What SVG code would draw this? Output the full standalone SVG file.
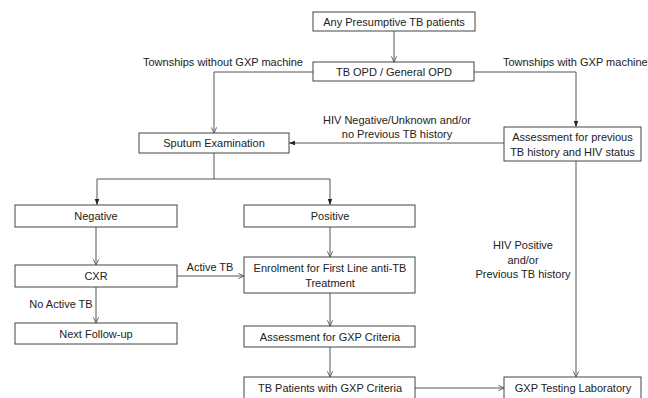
<svg xmlns="http://www.w3.org/2000/svg" width="648" height="398" viewBox="0 0 648 398">
<style>
text{font-family:"Liberation Sans",Arial,sans-serif;font-size:11px;fill:#222;}
.c{text-anchor:middle;}
.box{fill:#fff;stroke:#444;stroke-width:1;}
.ln{fill:none;stroke:#555;stroke-width:1;}
</style>
<defs>
<marker id="open" viewBox="0 0 8 8" refX="7.5" refY="4" markerWidth="7" markerHeight="7" markerUnits="userSpaceOnUse" orient="auto">
<path d="M1,1 L7.5,4 L1,7" fill="none" stroke="#555" stroke-width="1"/>
</marker>
<marker id="fill" viewBox="0 0 8 8" refX="8" refY="4" markerWidth="6" markerHeight="6" markerUnits="userSpaceOnUse" orient="auto">
<path d="M0,1 L8,4 L0,7 Z" fill="#222"/>
</marker>
</defs>
<g id="connectors">
<path class="ln" d="M394,31 V62" marker-end="url(#open)"/>
<path class="ln" d="M313,72 H214 V133" marker-end="url(#open)"/>
<path class="ln" d="M474,72 H576 V127" marker-end="url(#fill)"/>
<path class="ln" d="M504,143 H289" marker-end="url(#fill)"/>
<path class="ln" d="M214,153 V179 M97,179 H330"/>
<path class="ln" d="M97,179 V205" marker-end="url(#fill)"/>
<path class="ln" d="M330,179 V205" marker-end="url(#fill)"/>
<path class="ln" d="M96,227 V265" marker-end="url(#open)"/>
<path class="ln" d="M177,276 H244" marker-end="url(#open)"/>
<path class="ln" d="M96,287 V323" marker-end="url(#open)"/>
<path class="ln" d="M330,227 V257" marker-end="url(#open)"/>
<path class="ln" d="M330,293 V326" marker-end="url(#open)"/>
<path class="ln" d="M330,347 V377" marker-end="url(#open)"/>
<path class="ln" d="M415,388 H504" marker-end="url(#open)"/>
<path class="ln" d="M576,161 V377" marker-end="url(#open)"/>
<text class="c" x="223" y="66">Townships without GXP machine</text>
<text x="503" y="66">Townships with GXP machine</text>
<text class="c" x="397" y="124">HIV Negative/Unknown and/or</text>
<text class="c" x="397" y="138">no Previous TB history</text>
<text class="c" x="210" y="271">Active TB</text>
<text class="c" x="61" y="308">No Active TB</text>
<text class="c" x="523" y="249">HIV Positive</text>
<text class="c" x="523" y="264">and/or</text>
<text class="c" x="523" y="278">Previous TB history</text>
</g>
<g id="n-any"><rect class="box" x="313" y="12" width="162" height="19"/><text class="c" x="394" y="25.5">Any Presumptive TB patients</text></g>
<g id="n-opd"><rect class="box" x="313" y="62" width="161" height="19"/><text class="c" x="394" y="75.5">TB OPD / General OPD</text></g>
<g id="n-assess"><rect class="box" x="504" y="127" width="137" height="34"/><text class="c" x="572.5" y="141">Assessment for previous</text><text class="c" x="572.5" y="156">TB history and HIV status</text></g>
<g id="n-sputum"><rect class="box" x="139" y="133" width="150" height="20"/><text class="c" x="214" y="147">Sputum Examination</text></g>
<g id="n-neg"><rect class="box" x="15" y="205" width="162" height="22"/><text class="c" x="96" y="220">Negative</text></g>
<g id="n-pos"><rect class="box" x="244" y="205" width="171" height="22"/><text class="c" x="330" y="220">Positive</text></g>
<g id="n-cxr"><rect class="box" x="15" y="265" width="162" height="22"/><text class="c" x="96" y="280">CXR</text></g>
<g id="n-enrol"><rect class="box" x="244" y="257" width="171" height="36"/><text class="c" x="330" y="272">Enrolment for First Line anti-TB</text><text class="c" x="330" y="287">Treatment</text></g>
<g id="n-next"><rect class="box" x="15" y="323" width="162" height="21"/><text class="c" x="96" y="337.5">Next Follow-up</text></g>
<g id="n-gxpcrit"><rect class="box" x="244" y="326" width="171" height="21"/><text class="c" x="330" y="341">Assessment for GXP Criteria</text></g>
<g id="n-tbpat"><rect class="box" x="244" y="377" width="171" height="23"/><text class="c" x="330" y="392">TB Patients with GXP Criteria</text></g>
<g id="n-lab"><rect class="box" x="504" y="377" width="137" height="23"/><text class="c" x="573" y="392">GXP Testing Laboratory</text></g>
</svg>
